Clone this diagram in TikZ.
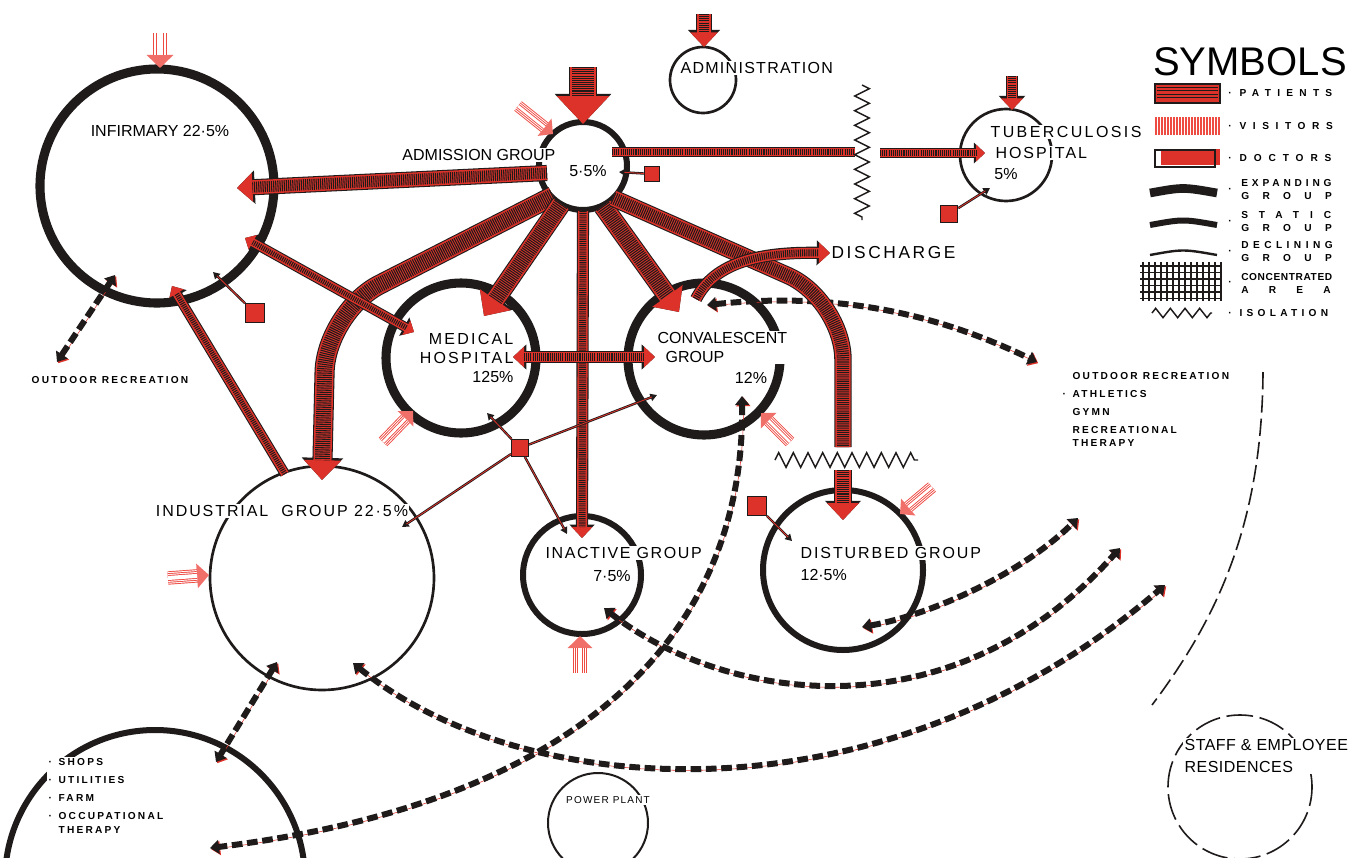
\documentclass[tikz,border=0pt]{standalone}
\usepackage{fontspec}
\setmainfont{Liberation Sans}
\usetikzlibrary{arrows.meta,calc,decorations.pathmorphing}
\definecolor{ink}{HTML}{1F1B1B}
\definecolor{patred}{HTML}{DC3229}
\definecolor{visred}{HTML}{EE4B43}

\tikzset{
  lbl/.style={font=\fontsize{12}{14.25}\selectfont, fill=white, inner sep=1pt},
  note/.style={font=\fontsize{7.6}{13.5}\selectfont\bfseries\addfontfeature{LetterSpace=22}, fill=white, inner sep=1pt},
  legtext/.style={font=\fontsize{7.6}{9.75}\selectfont\bfseries, inner sep=0pt, align=left},
  ring/.style={circle, draw=ink, inner sep=0pt, minimum size=1.5pt*#1},
  expanding/.style={line width=6.8pt},
  static/.style={line width=4.5pt},
  declining/.style={line width=2pt},
  pat/.style={draw=patred, line width=#1,
    -{Triangle[length=0pt 1.1, width=0pt 2]},
    preaction={draw=ink, line width=#1+1.6pt},
    postaction={draw=ink, line width=#1-2.2pt, dash pattern=on .8pt off .8pt,
      arrows=-, shorten >=1.1*#1}},
  patboth/.style={draw=patred, line width=#1,
    {Triangle[length=0pt 1.1, width=0pt 2]}-{Triangle[length=0pt 1.1, width=0pt 2]},
    preaction={draw=ink, line width=#1+1.6pt},
    postaction={draw=ink, line width=#1-2.2pt, dash pattern=on .8pt off .8pt,
      arrows=-, shorten >=1.1*#1, shorten <=1.1*#1}},
  patcut/.style={draw=patred, line width=#1,
    preaction={draw=ink, line width=#1+1.6pt},
    postaction={draw=ink, line width=#1-2.2pt, dash pattern=on .8pt off .8pt}},
  dpat/.style={draw=ink, line width=4.5pt, dash pattern=on 8pt off 3.5pt,
    {Triangle[length=0pt 1.5, width=0pt 2.3]}-{Triangle[length=0pt 1.5, width=0pt 2.3]},
    preaction={draw=patred, transform canvas={shift={(.9pt,-.9pt)}}}},
  vis/.style={draw=visred, line width=#1,
    -{Triangle[length=0pt .9, width=0pt 1.8, color=visred!80]},
    postaction={draw=white, line width=#1-1.4pt, arrows=-, shorten >=.9*#1},
    postaction={draw=visred, line width=#1-2.8pt, arrows=-, shorten >=.9*#1},
    postaction={draw=white, line width=#1-4.2pt, arrows=-, shorten >=.9*#1},
    postaction={draw=visred, line width=#1-5.6pt, arrows=-, shorten >=.9*#1},
    postaction={draw=white, line width=#1-7pt, arrows=-, shorten >=.9*#1}},
  doc/.style={draw=ink, line width=1.8pt, -{Triangle[length=5pt, width=5.5pt]},
    postaction={draw=patred, line width=.6pt, arrows=-, shorten >=4pt}},
  docbox/.style={draw=ink, fill=patred, line width=.9pt, inner sep=0pt, minimum size=#1},
  iso/.style={draw=ink, line width=1.1pt, decorate,
    decoration={zigzag, segment length=11pt, amplitude=5.5pt}},
}

\begin{document}
\begin{tikzpicture}[x=0.75pt, y=-0.75pt]
  \fill[white] (0,0) rectangle (1356,857);
  \useasboundingbox (0,0) rectangle (1356,857);

  % Gruppi
  \node[ring=117, expanding] (inf) at (157,186) {};
  \node[ring=44, static] (adm) at (583,166) {};
  \node[ring=33, declining] (admin) at (703,80) {};
  \node[ring=46, declining] (tb) at (1006,155) {};
  \node[ring=75, expanding] (med) at (461,358) {};
  \node[ring=76, expanding] (conv) at (704,359) {};
  \node[ring=112, declining] (ind) at (322,578) {};
  \node[ring=59, static] (inact) at (582,575) {};
  \node[ring=80, static] (dist) at (843,570) {};
  \node[ring=50, declining, line width=1.5pt] (power) at (598,823) {};
  \node[ring=150, static] (shops) at (155,880) {};
  \node[circle, draw=ink, line width=1.2pt, dash pattern=on 20pt off 5pt,
    inner sep=0pt, minimum size=1.5pt*72] (staff) at (1240,787) {};
  \draw[ink, line width=1.2pt, dash pattern=on 13pt off 4.5pt]
    (1263,372) .. controls (1262,520) and (1220,615) .. (1152,705);

  % Etichette
  \node[lbl] (infL) at (160,131) {INFIRMARY 22·5\%};
  \node[lbl, anchor=east] (admL) at (557,155) {ADMISSION GROUP};
  \node[lbl] (admP) at (588,171) {5·5\%};
  \node[lbl, anchor=west] (adminL) at (679,68) {\addfontfeature{LetterSpace=8}ADMINISTRATION};
  \node[lbl, anchor=west] (tbL) at (989,132) {\addfontfeature{LetterSpace=15}TUBERCULOSIS};
  \node[lbl, anchor=west] (tbL2) at (994,153) {\addfontfeature{LetterSpace=12}HOSPITAL};
  \node[lbl] (tbP) at (1006,174) {5\%};
  \node[lbl, anchor=east, align=right] (medL) at (515,358)
    {\addfontfeature{LetterSpace=14}MEDICAL\\\addfontfeature{LetterSpace=14}HOSPITAL\\125\%};
  \node[lbl, anchor=west, align=left] (convL) at (656,347) {CONVALESCENT\\\hspace{6pt}GROUP};
  \node[lbl] (convP) at (751,378) {12\%};
  \node[lbl] (indL) at (282,511) {\addfontfeature{LetterSpace=12}INDUSTRIAL\hspace{5pt} GROUP 22·5\%};
  \node[lbl, anchor=west] (inactL) at (544,553) {\addfontfeature{LetterSpace=10}INACTIVE GROUP};
  \node[lbl] (inactP) at (612,576) {7·5\%};
  \node[lbl, anchor=west] (distL) at (799,553) {\addfontfeature{LetterSpace=12}DISTURBED GROUP};
  \node[lbl, anchor=west] (distP) at (799,575) {12·5\%};
  \node[lbl, font=\fontsize{7.5}{9}\selectfont\addfontfeature{LetterSpace=12}] (powerL) at (608,800) {POWER PLANT};
  \node[lbl, anchor=west, font=\fontsize{13}{15}\selectfont\addfontfeature{LetterSpace=15}] (dis) at (830,253) {DISCHARGE};
  \node[lbl, anchor=west, align=left, font=\fontsize{12}{17}\selectfont\addfontfeature{LetterSpace=3}] (staffL) at (1183,756)
    {STAFF \& EMPLOYEE\\RESIDENCES};
  \node[note] (outL) at (110,380) {OUTDOOR RECREATION};
  \node[note, anchor=north west, align=left] (outR) at (1071,371)
    {OUTDOOR RECREATION\\\llap{·\hspace{5pt}}ATHLETICS\\GYMN\\RECREATIONAL\\[-4pt]THERAPY};
  \node[note, anchor=north west, align=left] (shopsL) at (47,757)
    {·\hspace{5pt}SHOPS\\·\hspace{5pt}UTILITIES\\·\hspace{5pt}FARM\\·\hspace{5pt}OCCUPATIONAL\\[-3pt]\phantom{·}\hspace{5pt}THERAPY};

  % Estremi liberi
  \coordinate (admIn) at (583,67);
  \coordinate (adminIn) at (704,14);
  \coordinate (tbIn) at (1012,76);
  \coordinate (tbcut1) at (855,152);
  \coordinate (tbcut2) at (880,153);
  \coordinate (discut1) at (843,447);
  \coordinate (discut2) at (843,470);
  \coordinate (recA) at (1037,362);
  \coordinate (recB) at (1078,518);
  \coordinate (recC) at (1120,548);
  \coordinate (recD) at (1165,585);

  % Percorsi verso lo svago
  \draw[dpat] ($(outL)+(-53,-18)$) -- ($(inf)+(-42,89)$);
  \draw[dpat] ($(conv)+(3,-54)$) .. controls (850,290) and (950,320) .. (recA);
  \draw[dpat] ($(conv)+(38,37)$) .. controls (745,620) and (600,800) .. ($(shops)+(55,-32)$);
  \draw[dpat] ($(inact)+(22,33)$) .. controls (720,700) and (950,740) .. (recC);
  \draw[dpat] ($(ind)+(31,85)$) .. controls (520,800) and (880,830) .. (recD);
  \draw[dpat] ($(dist)+(19,57)$) .. controls (930,615) and (1020,575) .. (recB);
  \draw[dpat] ($(ind)+(-45,84)$) -- ($(shops)+(61,-118)$);

  % Pazienti
  \draw[pat=19pt] (admIn) -- ($(adm)+(0,-42)$);
  \draw[pat=10.5pt] ($(adm)+(-36,7)$) -- ($(inf)+(80,2)$);
  \draw[patcut=6pt] ($(adm)+(29,-14)$) -- (tbcut1);
  \draw[pat=6pt] (tbcut2) -- ($(tb)+(-21,-2)$);
  \draw[pat=13.5pt, rounded corners=45pt] ($(adm)+(-30,30)$) -- (326,312) -- ($(ind)+(0,-98)$);
  \draw[pat=13.5pt] ($(adm)+(-22,38)$) -- ($(med)+(23,-42)$);
  \draw[pat=7.5pt] ($(adm)+(0,45)$) -- ($(inact)+(0,-37)$);
  \draw[pat=13.5pt] ($(adm)+(20,40)$) -- ($(conv)+(-25,-47)$);
  \draw[patcut=11.5pt, rounded corners=45pt] ($(adm)+(30,32)$) -- (843,300) -- (discut1);
  \draw[pat=11.5pt] (discut2) -- ($(dist)+(0,-50)$);
  \draw[pat=7.5pt] ($(conv)+(-8,-60)$) .. controls (715,262) and (760,252) .. (dis.west);
  \draw[patboth=7.5pt] ($(med)+(52,-1)$) -- ($(conv)+(-49,-2)$);
  \draw[pat=6pt] ($(ind)+(-37,-104)$) -- ($(inf)+(15,100)$);
  \draw[patboth=6pt] ($(med)+(-47,-26)$) -- ($(inf)+(88,52)$);
  \draw[pat=10pt] (adminIn) -- ($(admin)+(1,-33)$);
  \draw[pat=8pt] (tbIn) -- ($(tb)+(6,-45)$);

  % Visitatori
  \coordinate (visInf) at (160,33);
  \coordinate (visAdm) at (518,106);
  \coordinate (visMed) at (383,442);
  \coordinate (visConv) at (790,442);
  \coordinate (visInd) at (168,578);
  \coordinate (visInact) at (580,673);
  \coordinate (visDist) at (932,487);
  \draw[vis=11pt] (visInf) -- ($(inf)+(3,-118)$);
  \draw[vis=9pt] (visAdm) -- ($(adm)+(-30,-32)$);
  \draw[vis=9pt] (visMed) -- ($(med)+(-48,53)$);
  \draw[vis=9pt] (visConv) -- ($(conv)+(57,54)$);
  \draw[vis=10pt] (visInd) -- ($(ind)+(-113,-3)$);
  \draw[vis=10pt] (visInact) -- ($(inact)+(-2,61)$);
  \draw[vis=9pt] (visDist) -- ($(dist)+(57,-56)$);

  % Medici
  \node[docbox=11pt] (docAdm) at (652,174) {};
  \node[docbox=13pt] (docTb) at (949,214) {};
  \node[docbox=14pt] (docInf) at (255,313) {};
  \node[docbox=14pt] (docDist) at (757,506) {};
  \node[docbox=12.5pt] (docHub) at (520,448) {};
  \draw[doc] (docAdm) -- ($(adm)+(36,6)$);
  \draw[doc] (docTb) -- ($(tb)+(-16,33)$);
  \draw[doc] (docInf) -- ($(inf)+(56,86)$);
  \draw[doc] (docDist) -- ($(dist)+(-51,-29)$);
  \foreach \t/\dx/\dy in {med/26/55, conv/-47/36, ind/80/-51, inact/-15/-41}
    \draw[doc] (docHub) -- ($(\t)+(\dx,\dy)$);

  % Isolamento
  \draw[iso] (862,85) -- (862,220);
  \draw[iso] (775,460) -- (918,460);

  % Simboli
  \node[font=\fontsize{30}{30}\selectfont, inner sep=0pt] (symT) at (1250,62) {SYMBOLS};
  \filldraw[fill=patred, draw=ink, line width=1pt] (1155,84) rectangle (1220,103);
  \foreach \y in {87,90.5,...,100} \draw[ink, line width=.7pt] (1157,\y) -- (1218,\y);
  \foreach \x in {1156,1159,...,1219} \draw[visred, line width=1.1pt] (\x,117) -- (\x,135);
  \fill[patred] (1161,149) rectangle (1220,165);
  \draw[ink, line width=1pt] (1155,150) rectangle (1215,167);
  \draw[ink, line width=6.5pt] (1150,193) .. controls (1183,187) .. (1217,193);
  \draw[ink, line width=4.5pt] (1150,225) .. controls (1183,219) .. (1217,225);
  \draw[ink, line width=1.8pt] (1150,255) .. controls (1183,249) .. (1217,255);
  \foreach \x in {1143,1149,...,1221} \draw[ink, line width=.9pt] (\x,262) -- (\x,301);
  \foreach \y in {266,272.5,...,299} \draw[ink, line width=.9pt] (1140,\y) -- (1222,\y);
  \draw[iso, decoration={zigzag, segment length=11pt, amplitude=3.5pt}] (1152,313) -- (1212,313);
  \foreach \y/\txt/\ls in {93/PATIENTS/62, 126/VISITORS/65, 158/DOCTORS/68, 313/ISOLATION/42}
    \node[legtext, anchor=west] (leg\y) at (1228,\y) {·\hspace{6pt}\addfontfeature{LetterSpace=\ls}\txt};
  \foreach \y/\txt/\lsa/\sub/\lsb in {190/EXPANDING/38/GROUP/132, 222/STATIC/108/GROUP/132,
      252/DECLINING/44/GROUP/132, 283/CONCENTRATED/6/AREA/200}
  {
    \node[legtext] (dot\y) at (1230,\y) {·};
    \node[legtext, anchor=west] (leg\y) at (1241,\y)
      {{\addfontfeature{LetterSpace=\lsa}\txt}\\{\addfontfeature{LetterSpace=\lsb}\sub}};
  }
\end{tikzpicture}
\end{document}
